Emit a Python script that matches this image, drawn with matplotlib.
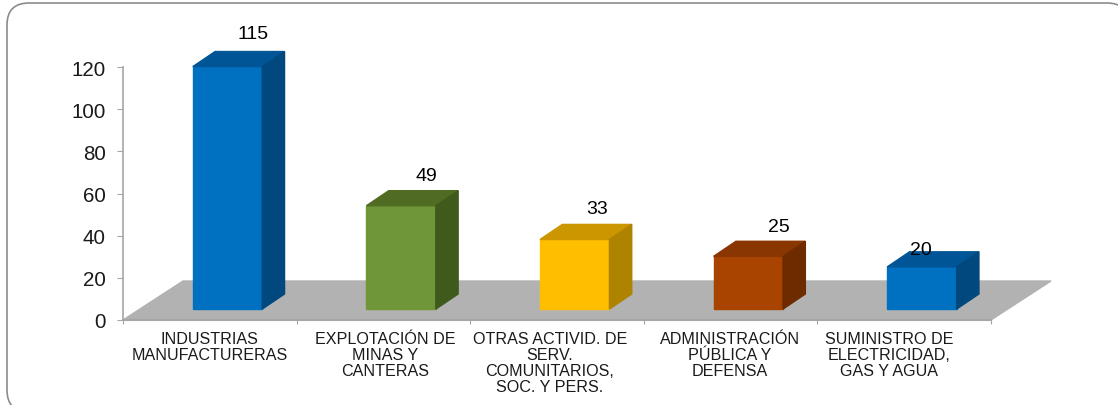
import matplotlib
matplotlib.use('Agg')
import matplotlib.pyplot as plt
from matplotlib.patches import FancyBboxPatch

categories = ['INDUSTRIAS\nMANUFACTURERAS',
              'EXPLOTACIÓN DE\nMINAS Y\nCANTERAS',
              'OTRAS ACTIVID. DE\nSERV.\nCOMUNITARIOS,\nSOC. Y PERS.',
              'ADMINISTRACIÓN\nPÚBLICA Y\nDEFENSA',
              'SUMINISTRO DE\nELECTRICIDAD,\nGAS Y AGUA']
values = [115, 49, 33, 25, 20]
yticks = [0, 20, 40, 60, 80, 100, 120]

front_colors = ['#0070C0', '#70963A', '#FFBE00', '#A94300', '#0070C0']
top_colors = ['#005596', '#4F6C22', '#CC9600', '#8A3600', '#005596']
side_colors = ['#00487E', '#3F5A1B', '#AD8300', '#6E2B00', '#00487E']

# label nudges in pixels, the original chart has them placed by hand
value_nudge = [(26, 33), (25, 30), (22, 31), (31, 30), (-1, 17)]
cat_nudge = [0, 2, -7, -1, -15]

W, H = 1118, 406
plt.rcParams['font.family'] = ['Liberation Sans', 'DejaVu Sans']

fig = plt.figure(figsize=(W / 100, H / 100), dpi=100)

# frame behind the chart, in pixels, runs off the right and bottom edge
bg = fig.add_axes([0, 0, 1, 1])
bg.set_xlim(0, W)
bg.set_ylim(H, 0)
bg.axis('off')
bg.add_patch(FancyBboxPatch((7, 4), 1122, 409, boxstyle='round,pad=0,rounding_size=22',
                            fc='white', ec='#8C8C8C', lw=1.2))

left, right, top, bottom = 123, 991, 68, 321
ax = fig.add_axes([left / W, 1 - bottom / H, (right - left) / W, (bottom - top) / H])
ax.patch.set_alpha(0)
ax.set_xlim(0, len(values))
ax.set_ylim(0, 120)

# depth of the 3d floor in data units
depth_x = 60 / ((right - left) / len(values))
depth_y = 39 / ((bottom - top) / 120)
bar_w = 0.4
near, far = 0.295, 0.667

n = len(values)
ax.fill([0, depth_x, n + depth_x, n], [0, depth_y, depth_y, 0], color='#B2B2B2', clip_on=False, zorder=1)

for i, v in enumerate(values):
    x0 = i + 0.5 - bar_w / 2 + near * depth_x
    x1 = x0 + bar_w
    y0 = 0.28 * depth_y
    y1 = y0 + v
    dx = (far - near) * depth_x
    dy = (far - 0.28) * depth_y
    ax.fill([x0, x1, x1, x0], [y0, y0, y1, y1], color=front_colors[i], clip_on=False, zorder=3)
    ax.fill([x0, x1, x1 + dx, x0 + dx], [y1, y1, y1 + dy, y1 + dy], color=top_colors[i], clip_on=False, zorder=3)
    ax.fill([x1, x1 + dx, x1 + dx, x1], [y0, y0 + dy, y1 + dy, y1], color=side_colors[i], clip_on=False, zorder=3)
    ax.annotate(str(v), (x0 + bar_w / 2, y1), xytext=(value_nudge[i][0] * 0.72, value_nudge[i][1] * 0.72),
                textcoords='offset points', ha='center', va='center', fontsize=14, color='black',
                annotation_clip=False, zorder=5)
    ax.annotate(categories[i], (i + 0.5, 0), xytext=(cat_nudge[i] * 0.72, -8.2), textcoords='offset points',
                ha='center', va='top', fontsize=11.6, color='#1A1A1A', linespacing=1.07,
                annotation_clip=False)

for s in ['top', 'right']:
    ax.spines[s].set_visible(False)
ax.spines['left'].set_color('#A6A6A6')
ax.spines['bottom'].set_color('#A6A6A6')
ax.spines['left'].set_linewidth(1.2)
ax.spines['bottom'].set_linewidth(1.5)
ax.set_yticks(yticks)
ax.set_xticks(range(n + 1))
ax.set_xticklabels([])
ax.tick_params(axis='y', labelsize=14.8, length=4, color='#A6A6A6', pad=8.5, labelcolor='#1A1A1A')
ax.tick_params(axis='x', length=3, color='#A6A6A6')

fig.savefig('out.png', dpi=100)
